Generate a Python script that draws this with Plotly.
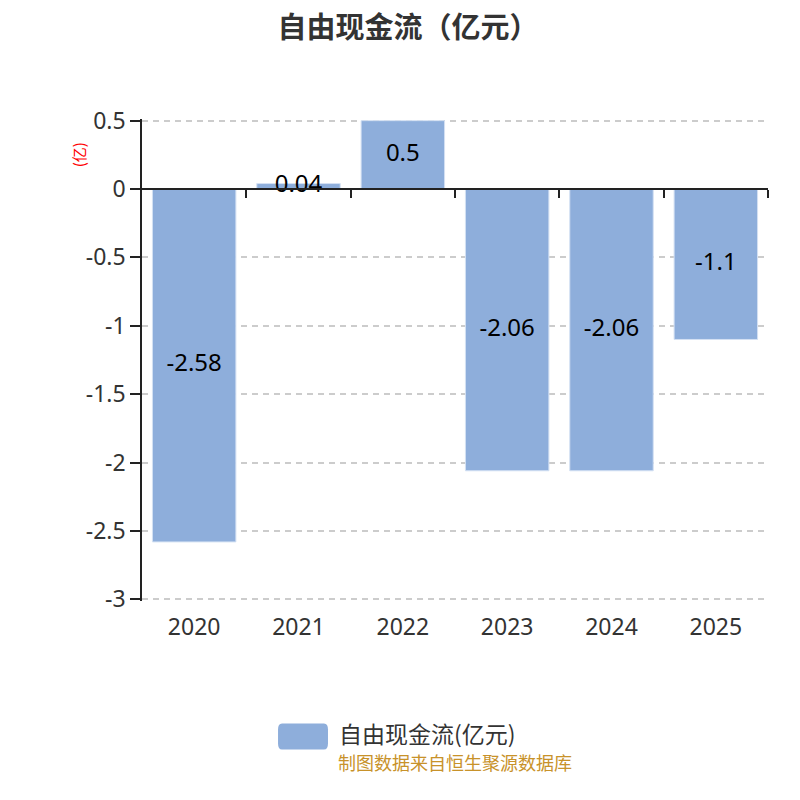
import plotly.graph_objects as go

years = ['2020', '2021', '2022', '2023', '2024', '2025']
fcf = [-2.58, 0.04, 0.5, -2.06, -2.06, -1.1]
labels = ['-2.58', '0.04', '0.5', '-2.06', '-2.06', '-1.1']
y_ticks = [0.5, 0, -0.5, -1, -1.5, -2, -2.5, -3]
y_ticktext = ['0.5', '0', '-0.5', '-1', '-1.5', '-2', '-2.5', '-3']
series_name = '自由现金流(亿元)'

bar_color = '#8eaedb'
font_cn = 'Noto Sans, Noto Sans CJK SC, sans-serif'

fig = go.Figure()

fig.add_trace(go.Bar(
    x=years, y=fcf,
    marker=dict(color=bar_color, line=dict(color='#d4e1f3', width=1)),
    name=series_name, showlegend=False,
    width=0.8,
    hoverinfo='x+y'
))

# value labels centred in each bar
fig.add_trace(go.Scatter(
    x=years, y=[v / 2 for v in fcf],
    mode='text', text=labels,
    textfont=dict(size=24, color='#000000', family=font_cn),
    showlegend=False, hoverinfo='skip'
))

# tick marks on the zero line at category boundaries
fig.add_trace(go.Scatter(
    x=[-0.5, 5.5], y=[0, 0], xaxis='x2', mode='lines',
    line=dict(width=0), showlegend=False, hoverinfo='skip'
))

ymin, ymax = -3.012, 0.512

fig.update_layout(
    width=800, height=800,
    paper_bgcolor='white', plot_bgcolor='white',
    margin=dict(l=134, r=40, t=111, b=207, autoexpand=False),
    font=dict(family=font_cn, color='#333333'),
    title=dict(text='<b>自由现金流（亿元）</b>', x=0.5, xanchor='center',
               y=0.975, yanchor='middle',
               font=dict(size=29, color='#333333', family='Noto Sans CJK SC')),
    bargap=0.2,
    xaxis=dict(
        type='category', showgrid=False, showline=False, zeroline=False,
        ticks='', ticklabelstandoff=10, tickfont=dict(size=23, color='#333333'),
        range=[-0.5, 5.5], automargin=False
    ),
    xaxis2=dict(
        overlaying='x', anchor='free', position=(0 - ymin) / (ymax - ymin),
        range=[-0.5, 5.5], showgrid=False, zeroline=False,
        showline=True, linecolor='#222222', linewidth=1.5,
        ticks='outside', ticklen=8, tickcolor='#222222', tickwidth=1.5,
        tickmode='array', tickvals=[0.5, 1.5, 2.5, 3.5, 4.5, 5.5],
        showticklabels=False
    ),
    yaxis=dict(
        range=[ymin, ymax], tickmode='array', tickvals=y_ticks, ticktext=y_ticktext,
        showgrid=True, gridcolor='#cccccc', griddash='6px,5px', gridwidth=1.5,
        zeroline=False, showline=True, linecolor='#222222', linewidth=1.5,
        ticks='outside', ticklen=10, tickcolor='#222222', tickwidth=1.5,
        tickfont=dict(size=23, color='#333333'), automargin=False
    ),
    shapes=[dict(
        type='path', xref='paper', yref='paper', layer='above',
        path='M 0.2236,-0.254 L 0.2907,-0.254 Q 0.2971,-0.254 0.2971,-0.2665 '
             'L 0.2971,-0.2955 Q 0.2971,-0.308 0.2907,-0.308 L 0.2236,-0.308 '
             'Q 0.2173,-0.308 0.2173,-0.2955 L 0.2173,-0.2665 Q 0.2173,-0.254 0.2236,-0.254 Z',
        fillcolor=bar_color, line=dict(width=0)
    )],
    annotations=[
        dict(text='(亿)', xref='paper', yref='paper', x=-0.102, y=0.925,
             xanchor='center', yanchor='middle', textangle=-90, showarrow=False,
             font=dict(size=15, color='#ff0000', family='Noto Sans CJK SC')),
        dict(text=series_name, xref='paper', yref='paper',
             x=0.312, xanchor='left', y=-0.273, yanchor='middle', showarrow=False,
             font=dict(size=23, color='#333333', family='Noto Sans CJK SC')),
        dict(text='制图数据来自恒生聚源数据库', xref='paper', yref='paper',
             x=0.5, xanchor='center', y=-0.334, yanchor='middle', showarrow=False,
             font=dict(size=18, color='#c8922a', family='Noto Sans CJK SC'))
    ]
)

fig.write_html('out.html')
